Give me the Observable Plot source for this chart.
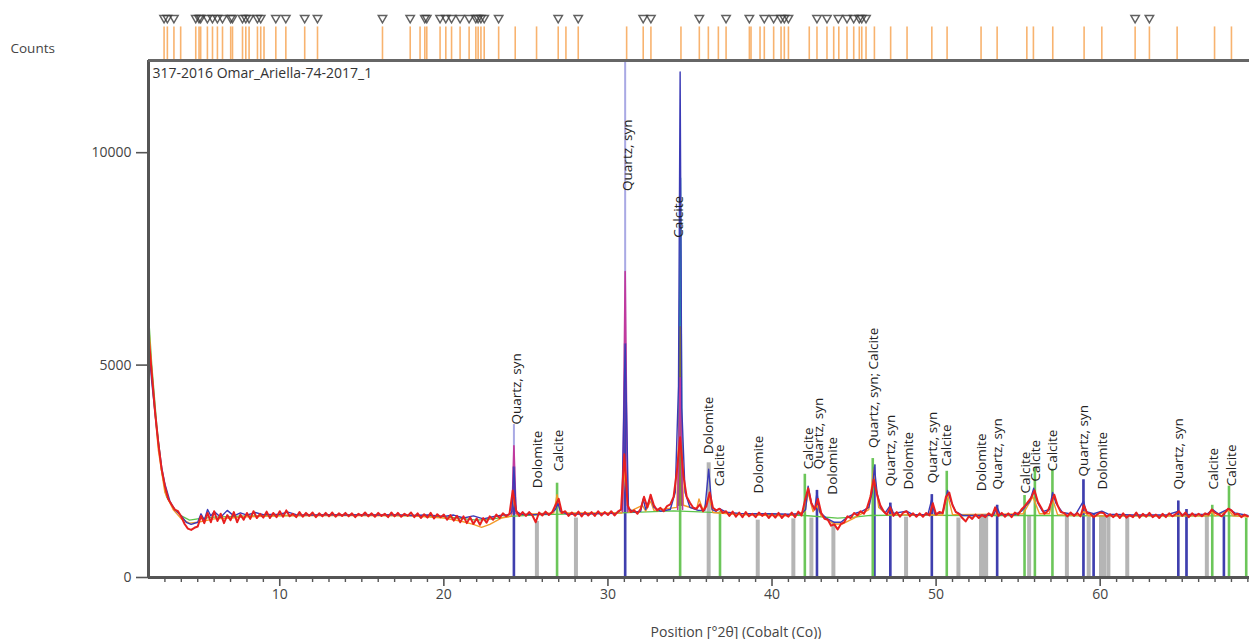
<!DOCTYPE html>
<html><head><meta charset="utf-8">
<script src="https://cdn.jsdelivr.net/npm/d3@7"></script>
<script src="https://cdn.jsdelivr.net/npm/@observablehq/plot@0.6"></script>
<style>body{margin:0;background:#fff} svg{display:block}</style>
</head><body><div id="chart"></div>
<script>
// ---------- DATA ----------
const sampleName = "317-2016 Omar_Ariella-74-2017_1";
const xLabel = "Position [°2θ] (Cobalt (Co))";
const yLabel = "Counts";
const xMajorTicks = [10, 20, 30, 40, 50, 60];
const xMinorTicks = [3,4,5,6,7,8,9,11,12,13,14,15,16,17,18,19,21,22,23,24,25,26,27,28,29,31,32,33,34,35,36,37,38,39,41,42,43,44,45,46,47,48,49,51,52,53,54,55,56,57,58,59,61,62,63,64,65,66,67,68,69];
const yTicks = [0, 5000, 10000];
const xDomain = [2.0, 69.1];
const yDomain = [0, 12170];

// observed scan (red), equal step in 2θ
const scanStart = 2.0, scanStep = 0.2;
const redCounts = [
5700,4800,3900,3150,2550, 2150,1850,1720,1600,1560, 1430,1260,1150,1120,1170,
1200,1450,1280,1520,1300, 1560,1330,1500,1280,1470, 1350,1540,1300,1480,1360,
1520,1380,1560,1400,1500, 1410,1550,1400,1520,1420, 1560,1430,1580,1440,1500,
1420,1540,1430,1520,1450, 1530,1420,1510,1440,1520, 1440,1530,1430,1510,1450,
1520,1440,1510,1420,1500, 1450,1530,1440,1510,1430, 1520,1450,1500,1420,1530,
1440,1520,1430,1500,1450, 1530,1420,1510,1400,1490, 1410,1520,1390,1490,1420,
1480,1360,1470,1340,1450, 1300,1440,1280,1420,1260, 1390,1240,1400,1290,1440,
1360,1480,1400,1510,1440, 1500,2050,1580,1450,1540, 1450,1540,1460,1300,1530,
1460,1550,1470,1540,1700, 1850,1520,1560,1450,1530, 1450,1550,1440,1540,1460,
1540,1450,1560,1460,1540, 1470,1560,1460,1550,1600, 2900,1700,1540,1580,1500,
1620,1900,1650,1950,1700, 1580,1640,1560,1680,1720, 1900,2500,3300,2400,1900,
1760,1640,1620,1720,1560, 1680,2000,1640,1580,1620, 1520,1560,1450,1550,1430,
1530,1420,1540,1440,1500, 1420,1530,1450,1510,1400, 1500,1410,1520,1400,1490,
1430,1530,1420,1550,1460, 1800,2100,1750,1600,1850, 1520,1380,1360,1220,1250,
1130,1260,1300,1440,1400, 1520,1460,1560,1500,1650, 1900,2300,1950,1700,1560,
1480,1650,1450,1540,1430, 1530,1560,1440,1510,1430, 1510,1430,1520,1460,1750,
1480,1540,1520,1900,2000, 1700,1540,1500,1400,1320, 1440,1380,1480,1400,1470,
1420,1510,1440,1650,1450, 1520,1430,1510,1420,1530, 1480,1600,1680,1780,1880,
2050,1780,1650,1500,1560, 1750,1950,1700,1540,1520, 1440,1530,1450,1520,1440,
1700,1520,1500,1420,1480, 1530,1520,1430,1490,1420, 1500,1400,1510,1410,1470,
1420,1530,1410,1500,1430, 1520,1420,1480,1400,1500, 1420,1510,1440,1490,1560,
1450,1530,1420,1510,1440, 1500,1440,1510,1480,1600, 1520,1490,1440,1520,1620,
1580,1480,1500,1420,1480, 1440];

// calculated profile (blue) [2θ, counts]
const bluePts = [[2.0,5500],[2.2,4600],[2.5,3500],[2.8,2600],[3.0,2200],[3.3,1800],[3.6,1600],[4.0,1450],[4.3,1300],[4.6,1250],[5.0,1300],[5.2,1500],[5.4,1350],[5.6,1600],[5.8,1450],[6.0,1550],[6.4,1420],[6.8,1580],[7.2,1450],[7.6,1520],[8.0,1470],[8.5,1530],[9.0,1480],[10.0,1490],[10.5,1540],[11,1480],[12,1470],[13,1480],[14,1470],[15,1480],[16,1470],[17,1480],[18,1460],[19,1470],[20,1440],[20.6,1470],[21.2,1400],[21.8,1450],[22.4,1380],[23,1430],[23.6,1470],[24.0,1480],[24.15,1550],[24.27,2600],[24.4,1560],[24.7,1490],[25.5,1480],[26.5,1500],[26.8,1600],[26.95,1750],[27.1,1560],[27.5,1490],[29,1500],[30.5,1510],[30.85,1600],[31.05,5500],[31.25,1620],[31.6,1540],[32.0,1560],[32.15,1850],[32.3,1600],[32.6,1900],[32.8,1650],[33.2,1560],[33.8,1600],[34.1,2000],[34.3,4500],[34.4,11900],[34.5,4000],[34.7,2000],[35.0,1650],[35.5,1580],[35.9,1580],[36.14,2550],[36.35,1600],[36.6,1560],[36.8,1620],[37.2,1540],[38,1510],[39,1500],[40,1500],[41,1490],[41.8,1500],[42.05,1600],[42.2,2150],[42.4,1750],[42.6,1600],[42.74,2000],[42.9,1550],[43.3,1400],[43.8,1300],[44.2,1300],[44.6,1420],[45.0,1500],[45.5,1560],[45.9,1650],[46.1,2000],[46.24,2600],[46.4,2000],[46.6,1650],[46.9,1520],[47.21,1700],[47.4,1510],[48.2,1560],[48.6,1480],[49.5,1480],[49.74,1850],[49.9,1500],[50.4,1520],[50.7,2050],[50.9,1800],[51.2,1550],[51.6,1460],[52.5,1460],[53.5,1470],[53.72,1650],[53.9,1480],[54.8,1480],[55.2,1560],[55.5,1700],[55.7,1780],[55.95,2100],[56.2,1750],[56.5,1550],[56.9,1600],[57.1,2000],[57.3,1750],[57.7,1530],[58.5,1480],[58.98,1800],[59.15,1550],[59.6,1500],[60.1,1560],[60.5,1490],[62,1470],[64,1470],[64.78,1560],[65,1480],[66.5,1490],[66.85,1600],[67.2,1500],[67.85,1620],[68.2,1520],[69.0,1460]];

// background (green) [2θ, counts]
const greenPts = [[2.0,6200],[2.2,5000],[2.5,3600],[2.8,2500],[3.1,1900],[3.5,1650],[4.0,1450],[4.5,1350],[5.0,1380],[6,1420],[8,1450],[10,1460],[14,1470],[18,1460],[20,1430],[21,1390],[22,1350],[23,1380],[24,1440],[26,1480],[28,1500],[30,1510],[32,1540],[34,1570],[36,1540],[38,1500],[40,1480],[42,1460],[44,1400],[45,1420],[46,1460],[48,1470],[52,1460],[56,1460],[60,1450],[64,1450],[69,1450]];

// second scan (orange) [2θ, counts]
const orangePts = [[2.0,6000],[2.3,4300],[2.6,3000],[3.0,2000],[3.5,1600],[4.0,1380],[4.5,1280],[5.0,1300],[6,1380],[7,1400],[8,1430],[10,1450],[14,1460],[18,1450],[20,1400],[21,1330],[21.8,1250],[22.3,1180],[22.8,1250],[23.5,1400],[24.1,1440],[24.27,1900],[24.45,1480],[26.7,1520],[26.9,1950],[27.1,1520],[30.85,1520],[31.05,2600],[31.25,1540],[32.1,1700],[32.3,1560],[32.6,1800],[32.8,1580],[34.2,1650],[34.4,5000],[34.6,1700],[35.4,1600],[35.55,1850],[35.8,1580],[36.14,1900],[36.4,1530],[38,1480],[41,1450],[42.0,1550],[42.2,2000],[42.5,1550],[42.74,1700],[43.0,1450],[43.8,1260],[44.3,1260],[45,1400],[45.9,1600],[46.2,2550],[46.5,1650],[47,1480],[50.4,1470],[50.7,1950],[51,1480],[55.3,1500],[55.9,1900],[56.3,1500],[56.9,1500],[57.1,1850],[57.4,1480],[58.8,1460],[59,1550],[59.3,1450],[66.6,1450],[66.8,1550],[67.0,1450],[67.85,1580],[68.1,1450],[69,1430]];

// other overlaid scans visible only at the strong peaks [2θ, counts, peak]
const magentaPts = [[24.15,1500,"a"],[24.27,3100,"a"],[24.4,1500,"a"],[30.9,1550,"b"],[31.05,7200,"b"],[31.2,1550,"b"],[34.25,1600,"c"],[34.4,4700,"c"],[34.55,1600,"c"]];
const tealPts = [[34.3,1700],[34.42,9400],[34.52,1700]];
const olivePts = [[34.33,1700],[34.4,5900],[34.47,1700]];

// reference sticks
const quartzPos = [24.27, 31.05, 42.74, 46.24, 47.21, 49.74, 53.72, 58.98, 59.6, 64.76, 65.26, 67.54];
const quartzTop = [3600, 12170, 2050, 2650, 1750, 1950, 1700, 2300, 1490, 1800, 1600, 1490];
const quartzH   = [2600, 5500, 2050, 2650, 1750, 1950, 1700, 2300, 1490, 1800, 1600, 1490];
const calcitePos = [26.9, 34.4, 36.83, 42.0, 46.14, 50.65, 55.39, 56.02, 57.09, 66.83, 67.85, 68.9];
const calciteH   = [2220, 5400, 1550, 2430, 2800, 2500, 1930, 2570, 2550, 1700, 2150, 1400];
const dolomitePos = [25.67, 28.05, 36.14, 39.13, 41.3, 42.4, 43.74, 48.17, 51.36, 52.74, 52.9, 53.05, 55.67, 57.97, 59.3, 60.05, 60.25, 60.5, 61.65, 66.5];
const dolomiteH   = [1320, 1400, 2700, 1350, 1380, 1400, 1300, 1420, 1400, 1450, 1420, 1440, 1450, 1450, 1420, 1460, 1440, 1450, 1430, 1450];

// peak labels
const labelText = ["Quartz, syn","Dolomite","Calcite","Quartz, syn","Calcite","Dolomite","Calcite","Dolomite","Calcite","Quartz, syn","Dolomite","Quartz, syn; Calcite","Quartz, syn","Dolomite","Quartz, syn","Calcite","Dolomite","Quartz, syn","Calcite","Calcite","Calcite","Quartz, syn","Dolomite","Quartz, syn","Calcite","Calcite"];
const labelPos  = [24.42, 25.71, 27.01, 31.2, 34.33, 36.16, 36.83, 39.2, 42.26, 42.87, 43.72, 46.22, 47.26, 48.32, 49.82, 50.67, 52.77, 53.78, 55.43, 56.04, 57.13, 59.02, 60.15, 64.76, 66.92, 67.99];
const labelBase = [3600, 2100, 2500, 9100, 8000, 2900, 2150, 1980, 2550, 2550, 1950, 3050, 2150, 2070, 2220, 2620, 2030, 2070, 1980, 2260, 2500, 2380, 2070, 2070, 2070, 2150];

// reference pattern positions in the top strip
const refPos = [2.95,3.15,3.55,3.96,4.88,5.08,5.18,5.59,5.90,6.20,6.51,7.01,7.12,7.73,7.93,8.13,8.64,8.84,9.04,9.76,10.37,11.52,12.30,16.26,17.95,18.55,18.84,18.96,19.77,20.12,20.47,20.99,21.54,21.95,22.09,22.26,22.46,23.34,24.35,25.65,26.97,27.44,28.19,31.14,32.15,32.62,34.45,35.57,36.12,36.73,37.2,38.62,38.72,39.27,39.53,40.1,40.55,40.75,41.0,42.27,42.74,43.35,43.76,44.07,44.57,44.98,45.32,45.47,45.73,46.24,47.23,48.23,49.74,50.67,52.74,53.72,55.53,55.93,57.11,59.02,60.1,62.13,63.0,64.69,66.97,68.0];
const vMarkPos = [2.95,3.15,3.55,4.88,5.08,5.18,5.59,5.90,6.20,6.51,7.01,7.12,7.73,7.93,8.13,8.64,8.84,9.76,10.37,11.52,12.30,16.26,17.95,18.84,18.96,19.77,20.12,20.47,20.99,21.54,21.95,22.09,22.26,22.46,23.34,26.97,28.19,32.15,32.62,35.57,37.2,38.62,39.53,40.1,40.55,40.75,41.0,42.74,43.35,44.04,44.57,44.98,45.32,45.47,45.73,62.13,63.0];

// ---------- BUILD ----------
const red = redCounts.map((c, i) => ({x: +(scanStart + i * scanStep).toFixed(2), y: c}));
const quartz = quartzPos.map((x, i) => ({x, top: quartzTop[i], h: quartzH[i]}));
const calcite = calcitePos.map((x, i) => ({x, h: calciteH[i]}));
const dolomite = dolomitePos.map((x, i) => ({x, h: dolomiteH[i]}));
const labels = labelText.map((t, i) => ({t, x: labelPos[i], y: labelBase[i]}));

const yTop = yDomain[1];
const stripLow = yTop + 10, stripHigh = 12960, vLevel = 13170;
const axisColor = "#555";
const font = "'Open Sans', 'Noto Sans', sans-serif";

const chart = Plot.plot({
  width: 1249, height: 639,
  marginLeft: 148, marginRight: 0, marginTop: 60, marginBottom: 62,
  x: {domain: xDomain},
  y: {domain: yDomain},
  style: {fontFamily: font, fontSize: "13px", color: "#444", background: "#fff", overflow: "visible"},
  marks: [
    // top strip reference lines and markers
    Plot.ruleX(refPos, {x: d => d, y1: stripLow, y2: stripHigh, stroke: "#f7a656", strokeOpacity: 0.85, strokeWidth: 1.6}),
    Plot.dot(vMarkPos, {x: d => d, y: vLevel, symbol: "triangle2", rotate: 180, r: 4, stroke: "#3a3a3a", strokeWidth: 1.5, strokeOpacity: 0.8}),
    // reference sticks
    Plot.ruleX(dolomite, {x: "x", y1: 0, y2: "h", stroke: "#b5b5b5", strokeWidth: 4}),
    Plot.ruleX(quartz, {x: "x", y1: 0, y2: "top", stroke: "#a9a9e4", strokeWidth: 2}),
    Plot.ruleX(quartz, {x: "x", y1: 0, y2: "h", stroke: "#3f3fae", strokeWidth: 2.6}),
    Plot.ruleX(calcite, {x: "x", y1: 0, y2: "h", stroke: "#6cc65a", strokeWidth: 2.6}),
    // profiles
    Plot.line(greenPts, {x: d => d[0], y: d => d[1], stroke: "#5cc44a", strokeWidth: 1.3}),
    Plot.line(orangePts, {x: d => d[0], y: d => d[1], stroke: "#f39a2a", strokeWidth: 1.4}),
    Plot.line(tealPts, {x: d => d[0], y: d => d[1], stroke: "#26a3a6", strokeWidth: 1.6}),
    Plot.line(olivePts, {x: d => d[0], y: d => d[1], stroke: "#8a7a30", strokeWidth: 1.6}),
    Plot.line(magentaPts, {x: d => d[0], y: d => d[1], z: d => d[2], stroke: "#c0399e", strokeWidth: 1.6}),
    Plot.line(bluePts, {x: d => d[0], y: d => d[1], stroke: "#3a3ab6", strokeWidth: 1.4}),
    Plot.line(red, {x: "x", y: "y", stroke: "#e82020", strokeWidth: 2}),
    // peak labels
    Plot.text(labels, {x: "x", y: "y", text: "t", rotate: -90, textAnchor: "start", fill: "#222", fontSize: 13.5, fontWeight: d => d.t === "Calcite" && d.y > 5000 ? 700 : 400}),
    // frame
    Plot.ruleX([xDomain[0]], {stroke: axisColor, strokeWidth: 3}),
    Plot.ruleY([yTop], {stroke: "#666", strokeWidth: 3}),
    Plot.ruleY([0], {stroke: axisColor, strokeWidth: 3}),
    // axes
    Plot.axisY({ticks: yTicks, tickSize: 12, tickPadding: 5, tickFormat: d3.format("d"), label: null, stroke: axisColor, strokeWidth: 1.6, fontSize: 14}),
    Plot.axisX({ticks: xMinorTicks, tickSize: 5, tickFormat: () => "", label: null, stroke: axisColor, strokeWidth: 1.4}),
    Plot.axisX({ticks: xMajorTicks, tickSize: 9, tickPadding: 3, tickFormat: d3.format("d"), label: null, stroke: axisColor, strokeWidth: 1.6, fontSize: 14}),
    // texts
    Plot.text([sampleName], {frameAnchor: "top-left", dx: 4, dy: 13, lineAnchor: "middle", textAnchor: "start", fill: "#333", fontSize: 14}),
    Plot.text([yLabel], {frameAnchor: "top-left", dx: -138, dy: -12, lineAnchor: "middle", textAnchor: "start", fill: "#444", fontSize: 13.5}),
    Plot.text([xLabel], {frameAnchor: "bottom", dx: 37, dy: 55, lineAnchor: "middle", fill: "#444", fontSize: 14})
  ]
});
document.getElementById("chart").appendChild(chart);
</script>
</body></html>
